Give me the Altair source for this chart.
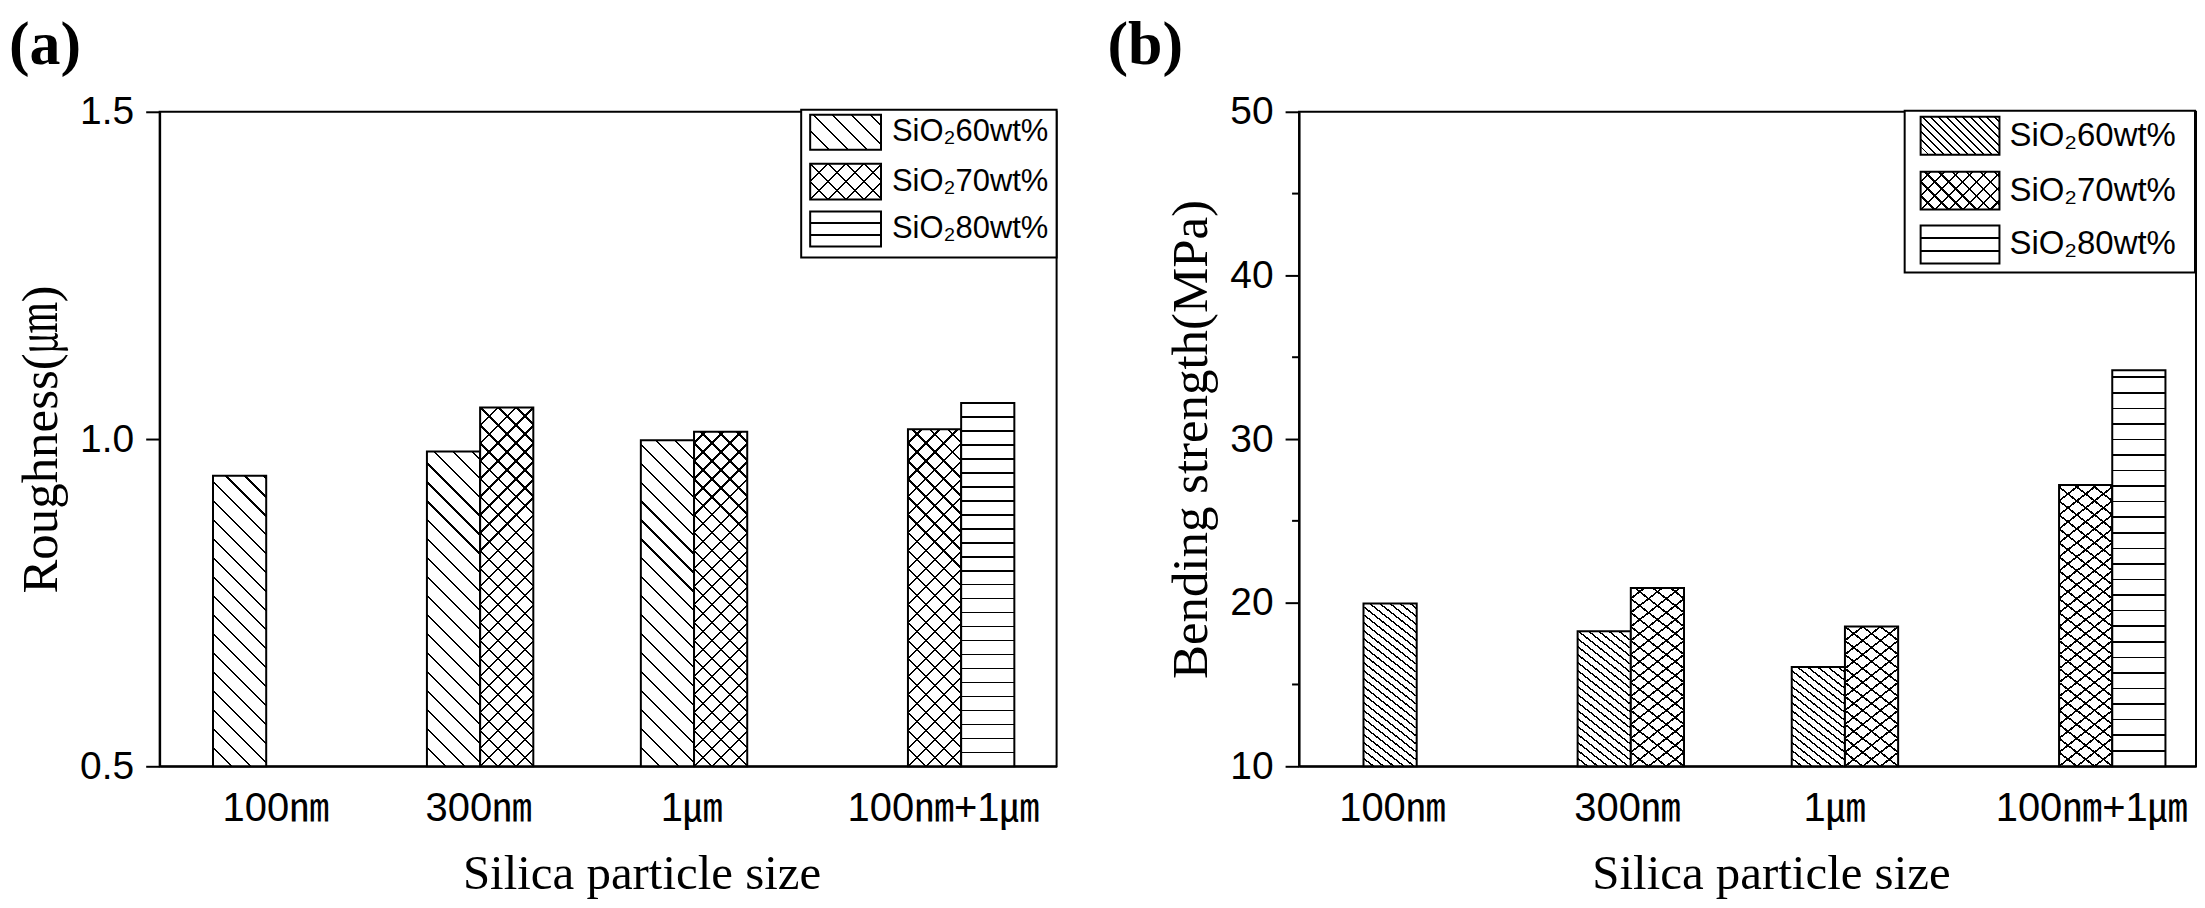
import math
import altair as alt
import pandas as pd

# ---------------- data ----------------
categories = ["100㎚", "300㎚", "1㎛", "100㎚+1㎛"]
series = ["SiO₂60wt%", "SiO₂70wt%", "SiO₂80wt%"]

roughness_60 = [0.944, 0.981, 0.998, None]
roughness_70 = [None, 1.048, 1.011, 1.015]
roughness_80 = [None, None, None, 1.055]

strength_60 = [19.95, 18.26, 16.07, None]
strength_70 = [None, 20.90, 18.54, 27.19]
strength_80 = [None, None, None, 34.21]

ticks_a = [0.5, 1.0, 1.5]
ticks_b = [10, 20, 30, 40, 50]
minor_b = [15, 25, 35, 45]

# ---------------- styling ----------------
W, H = 899, 656
SANS = "Liberation Sans, Arial, Noto Sans CJK KR, sans-serif"
SERIF = "Liberation Serif, Times New Roman, Noto Serif CJK KR, Noto Sans CJK KR, serif"
SQ2 = math.sqrt(2)


def gradient(kind, w, h, sp, lw, bg="white", fg="black"):
    """Hatch fill built as a linear gradient with hard stops (bbox units)."""
    if kind == "down":  # '\\\\' lines
        fmin, fmax = -w, h
        t = (w + h) / (w * w + h * h)
        x1, y1, x2, y2 = 1, 0, 1 - t * w, t * h
        anchor, fw = h, lw * SQ2
    elif kind == "up":  # '////' lines
        fmin, fmax = 0, w + h
        t = (w + h) / (w * w + h * h)
        x1, y1, x2, y2 = 0, 0, t * w, t * h
        anchor, fw = h, lw * SQ2
    else:  # horizontal lines
        fmin, fmax = 0, h
        x1, y1, x2, y2 = 0, 0, 0, 1
        anchor, fw = h, lw
    L = fmax - fmin
    stops = [{"offset": 0, "color": bg}]
    k0 = math.ceil((fmin - anchor) / sp)
    k1 = math.floor((fmax - anchor) / sp)
    for k in range(k0, k1 + 1):
        c = anchor + k * sp
        if kind == "horiz" and (c < 2 or c > h - 2):
            continue
        a = max(0.0, (c - fw / 2 - fmin) / L)
        b = min(1.0, (c + fw / 2 - fmin) / L)
        if b <= a:
            continue
        stops += [
            {"offset": a, "color": bg},
            {"offset": a, "color": fg},
            {"offset": b, "color": fg},
            {"offset": b, "color": bg},
        ]
    stops.append({"offset": 1, "color": bg})
    return {"gradient": "linear", "x1": x1, "y1": y1, "x2": x2, "y2": y2, "stops": stops}


def label_shift(offsets):
    return {
        "condition": [
            {"test": f"datum.value === '{c}'", "value": o} for c, o in zip(categories, offsets)
        ],
        "value": 0,
    }


def panel(vals, ymin, ymax, ticks, fmt, ytitle, pad_in, pad_out, align,
          pat, legend, label_tag, tag_x, title_x, lab_off, minor=None):
    rows = []
    for s, vs in zip(series, vals):
        for c, v in zip(categories, vs):
            if v is not None:
                rows.append({"size": c, "series": s, "value": v, "id": len(rows)})
    df = pd.DataFrame(rows)
    step = W / (4 - pad_in + 2 * pad_out)
    bar_w = step * (1 - pad_in) / 3

    x = alt.X(
        "size:N",
        sort=categories,
        scale=alt.Scale(domain=categories, paddingInner=pad_in, paddingOuter=pad_out, align=align),
        axis=alt.Axis(
            ticks=False, domainWidth=2, domainColor="black", labelAngle=0, labelLimit=0,
            labelFont=SANS, labelFontSize=40, labelColor="black", labelPadding=22,
            labelOffset=label_shift(lab_off),
            title="Silica particle size", titleFont=SERIF, titleFontSize=49,
            titleFontWeight="normal", titleColor="black",
            titleX=title_x, titleY=122, titleBaseline="alphabetic", titleAlign="center",
        ),
    )
    xo = alt.XOffset("series:N", sort=series,
                     scale=alt.Scale(domain=series, paddingInner=0, paddingOuter=0))
    y = alt.Y(
        "value:Q",
        scale=alt.Scale(domain=[ymin, ymax], zero=False, nice=False),
        axis=alt.Axis(
            values=ticks, format=fmt, tickSize=14, tickWidth=2, tickColor="black",
            domainWidth=2, domainColor="black", grid=False,
            labelFont=SANS, labelFontSize=39, labelColor="black", labelPadding=12,
            title=ytitle, titleFont=SERIF, titleFontSize=51, titleFontWeight="normal",
            titleColor="black", titlePadding=12,
        ),
    )
    y2 = alt.datum(ymin)

    base = alt.Chart(df)
    layers = []
    for r in rows:
        h = (r["value"] - ymin) / (ymax - ymin) * H
        sel = base.transform_filter(alt.datum.id == r["id"])
        enc = dict(x=x, xOffset=xo, y=y, y2=y2)
        si = series.index(r["series"])
        if si == 0:
            sp, lw = pat["p60"]
            layers.append(sel.mark_bar(fill=gradient("down", bar_w, h, sp, lw),
                                       stroke="black", strokeWidth=2).encode(**enc))
        elif si == 1:
            sp, lw = pat["p70"]
            layers.append(sel.mark_bar(fill=gradient("down", bar_w, h, sp, lw),
                                       strokeWidth=0).encode(**enc))
            layers.append(sel.mark_bar(fill=gradient("up", bar_w, h, sp, lw, bg="rgba(255,255,255,0)"),
                                       stroke="black", strokeWidth=2).encode(**enc))
        else:
            sp, lw = pat["p80"]
            layers.append(sel.mark_bar(fill=gradient("horiz", bar_w, h, sp, lw),
                                       stroke="black", strokeWidth=2).encode(**enc))

    if minor:
        mdf = pd.DataFrame({"m": minor})
        layers.append(alt.Chart(mdf).mark_rule(color="black", strokeWidth=2).encode(
            y=alt.Y("m:Q"), x=alt.value(-7), x2=alt.value(0)))

    one = alt.Data(values=[{"k": 0}])
    # legend
    bx0, bx1, by0, by1 = legend["box"]
    layers.append(alt.Chart(one).mark_rect(fill="white", stroke="black", strokeWidth=2).encode(
        x=alt.value(bx0), x2=alt.value(bx1), y=alt.value(by0), y2=alt.value(by1)))
    sx0, sx1 = legend["sx"]
    sw = sx1 - sx0
    for i, (s, (ry0, ry1)) in enumerate(zip(series, legend["rows"])):
        sh = ry1 - ry0
        ch = alt.Chart(one)
        enc = dict(x=alt.value(sx0), x2=alt.value(sx1), y=alt.value(ry0), y2=alt.value(ry1))
        if i == 0:
            sp, lw = pat["p60"]
            layers.append(ch.mark_rect(fill=gradient("down", sw, sh, sp, lw), stroke="black", strokeWidth=2).encode(**enc))
        elif i == 1:
            sp, lw = pat["p70"]
            layers.append(ch.mark_rect(fill=gradient("down", sw, sh, sp, lw), strokeWidth=0).encode(**enc))
            layers.append(ch.mark_rect(fill=gradient("up", sw, sh, sp, lw, bg="rgba(255,255,255,0)"),
                                       stroke="black", strokeWidth=2).encode(**enc))
        else:
            sp, lw = pat["p80"]
            layers.append(ch.mark_rect(fill=gradient("horiz", sw, sh, sh / 3, lw), stroke="black", strokeWidth=2).encode(**enc))
        layers.append(alt.Chart(alt.Data(values=[{"t": s}])).mark_text(
            align="left", baseline="middle", font=SANS, fontSize=legend["fs"], color="black"
        ).encode(text="t:N", x=alt.value(legend["tx"]), y=alt.value((ry0 + ry1) / 2)))

    # panel tag
    layers.append(alt.Chart(alt.Data(values=[{"t": label_tag}])).mark_text(
        align="left", baseline="top", font=SERIF, fontSize=62, fontWeight="bold", color="black"
    ).encode(text="t:N", x=alt.value(tag_x), y=alt.value(-97)))

    return alt.layer(*layers).properties(width=W, height=H)


pa = panel(
    [roughness_60, roughness_70, roughness_80], 0.5, 1.5, ticks_a, ".1f", "Roughness(㎛)",
    0.254, 0.2235, 0.558,
    {"p60": (19, 1.5), "p70": (18, 1.6), "p80": (14, 1.6)},
    {"box": (643, 899, -2, 146), "sx": (652, 723), "rows": [(3, 38), (52, 88), (100, 135)],
     "tx": 734, "fs": 31},
    "(a)", -151, 483, [-17, -28, -29, 9],
)
pb = panel(
    [strength_60, strength_70, strength_80], 10, 50, ticks_b, "d", "Bending strength(MPa)",
    0.413, 0.301, 0.5,
    {"p60": (8, 1.3), "p70": (14, 1.5), "p80": (15.6, 1.6)},
    {"box": (607, 898, -1, 161), "sx": (623, 702), "rows": [(5, 43), (60, 98), (114, 152)],
     "tx": 712, "fs": 33},
    "(b)", -192, 473, [-34, -13, -20, 23], minor=minor_b,
)

chart = (
    alt.hconcat(pa, pb, spacing=48)
    .properties(padding={"top": 4, "left": 0, "right": 0, "bottom": 0}, background="white")
    .configure_view(stroke="black", strokeWidth=2)
)

chart.save("out.html", embed_options={"renderer": "svg", "actions": False})
